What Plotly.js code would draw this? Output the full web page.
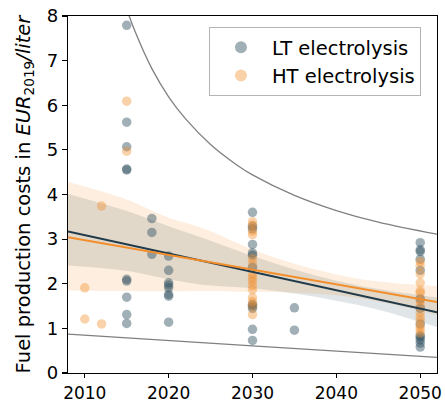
<!DOCTYPE html>
<html>
<head>
<meta charset="utf-8">
<script src="https://cdn.plot.ly/plotly-3.0.1.min.js"></script>
<style>html,body{margin:0;padding:0;background:#fff;}#chart{width:445px;height:402px;}</style>
</head>
<body>
<div id="chart"></div>
<script>
// LT electrolysis data points
const ltYears = [2015,2015,2015,2015,2015,2015,2015,2015,2015,2015,
  2018,2018,2018,
  2020,2020,2020,2020,2020,2020,2020,2020,
  2030,2030,2030,2030,2030,2030,2030,2030,2030,2030,2030,2030,
  2035,2035,
  2050,2050,2050,2050,2050,2050,2050,2050,2050,2050,2050,2050,2050];
const ltCosts = [7.79,5.62,5.07,4.57,4.55,2.10,2.06,1.70,1.31,1.11,
  3.46,3.15,2.66,
  2.62,2.30,2.02,1.97,1.91,1.76,1.72,1.14,
  3.60,3.29,3.23,2.88,2.69,2.64,2.37,1.54,1.50,1.45,0.98,0.73,
  1.46,0.96,
  2.92,2.76,2.72,2.55,2.30,1.66,1.45,1.10,0.84,0.80,0.74,0.67,0.58];
// HT electrolysis data points
const htYears = [2010,2010,2012,2012,2015,2015,
  2030,2030,2030,2030,2030,2030,2030,2030,2030,2030,2030,2030,2030,2030,2030,
  2050,2050,2050,2050,2050,2050,2050,2050,2050,2050,2050,2050,2050,2050];
const htCosts = [1.91,1.21,3.74,1.10,6.09,4.97,
  3.39,3.31,3.18,3.10,2.56,2.45,2.21,2.13,2.06,1.96,1.87,1.69,1.60,1.50,1.31,
  2.50,2.40,2.22,2.02,1.84,1.79,1.62,1.52,1.35,1.25,1.17,1.05,0.98,0.90];
// regression lines (ends)
const fitYears = [2008, 2052];
const ltFit = [3.17, 1.36];
const htFit = [3.04, 1.59];
// confidence bands
const bandYears = [2008,2015,2020,2024,2030,2035,2040,2045,2052];
const ltUpper = [4.01,3.63,3.29,3.03,2.62,2.32,2.07,1.88,1.69];
const ltLower = [2.41,2.29,2.10,1.98,1.90,1.78,1.62,1.42,1.03];
const htUpper = [4.28,3.89,3.48,3.25,2.77,2.45,2.21,2.05,1.95];
const htLower = [1.85,1.84,1.83,1.84,1.82,1.80,1.74,1.60,1.30];
// bounding curves
const upperCurveYears = [2015,2016,2018,2020,2022,2025,2028,2030,2035,2040,2045,2052];
const upperCurve = [8.16,7.65,6.82,6.19,5.70,5.12,4.68,4.44,3.98,3.64,3.38,3.11];
const lowerCurveYears = [2008,2030,2052];
const lowerCurve = [0.87,0.61,0.35];
// tick labels
const xTicks = [2010,2020,2030,2040,2050];
const yTicks = [0,1,2,3,4,5,6,7,8];

const LTc = '47,79,95';
const HTc = '242,142,43';

function band(xs, lo, hi, rgb){
  return [
    {x: xs, y: lo, mode:'lines', line:{width:0, shape:'spline'}, hoverinfo:'skip', showlegend:false},
    {x: xs, y: hi, mode:'lines', line:{width:0, shape:'spline'}, fill:'tonexty', fillcolor:'rgba('+rgb+',0.15)', hoverinfo:'skip', showlegend:false}
  ];
}

const traces = [
  {x: upperCurveYears, y: upperCurve, mode:'lines', line:{color:'#808080', width:1.3, shape:'spline'}, showlegend:false},
  {x: lowerCurveYears, y: lowerCurve, mode:'lines', line:{color:'#808080', width:1.3, shape:'spline'}, showlegend:false},
  ...band(bandYears, ltLower, ltUpper, LTc),
  ...band(bandYears, htLower, htUpper, HTc),
  {x: ltYears, y: ltCosts, mode:'markers', name:'LT electrolysis', marker:{size:9.5, color:'rgba('+LTc+',0.45)'}},
  {x: htYears, y: htCosts, mode:'markers', name:'HT electrolysis', marker:{size:9.5, color:'rgba('+HTc+',0.4)'}},
  {x: fitYears, y: ltFit, mode:'lines', line:{color:'rgb(31,58,74)', width:2}, showlegend:false},
  {x: fitYears, y: htFit, mode:'lines', line:{color:'rgb(242,142,43)', width:2}, showlegend:false}
];

const layout = {
  width:445, height:402,
  margin:{l:68, r:8, t:16, b:29},
  paper_bgcolor:'#fff', plot_bgcolor:'#fff',
  font:{family:'DejaVu Sans', size:18, color:'#000'},
  xaxis:{range:[2008,2052], tickvals:xTicks, showgrid:false, zeroline:false, tickfont:{size:17},
    showline:true, linecolor:'#000', linewidth:1.2, mirror:true, ticks:'outside', ticklen:4, tickwidth:1.1, tickcolor:'#000'},
  yaxis:{range:[0,8], tickvals:yTicks, showgrid:false, zeroline:false, tickfont:{size:18},
    showline:true, linecolor:'#000', linewidth:1.2, mirror:true, ticks:'outside', ticklen:5, tickwidth:1.1, tickcolor:'#000',
    title:{text:'Fuel production costs in <i>EUR</i><sub>2019</sub><i>/liter</i>', font:{size:19.5}, standoff:11}},
  legend:{x:0.382, y:0.969, xanchor:'left', yanchor:'top', bgcolor:'rgba(255,255,255,0.8)', bordercolor:'#b4b4b4', borderwidth:1,
    font:{size:19.5}, itemsizing:'constant', traceorder:'normal', itemwidth:52},
  showlegend:true
};

Plotly.newPlot('chart', traces, layout, {displayModeBar:false, staticPlot:true});
</script>
</body>
</html>
